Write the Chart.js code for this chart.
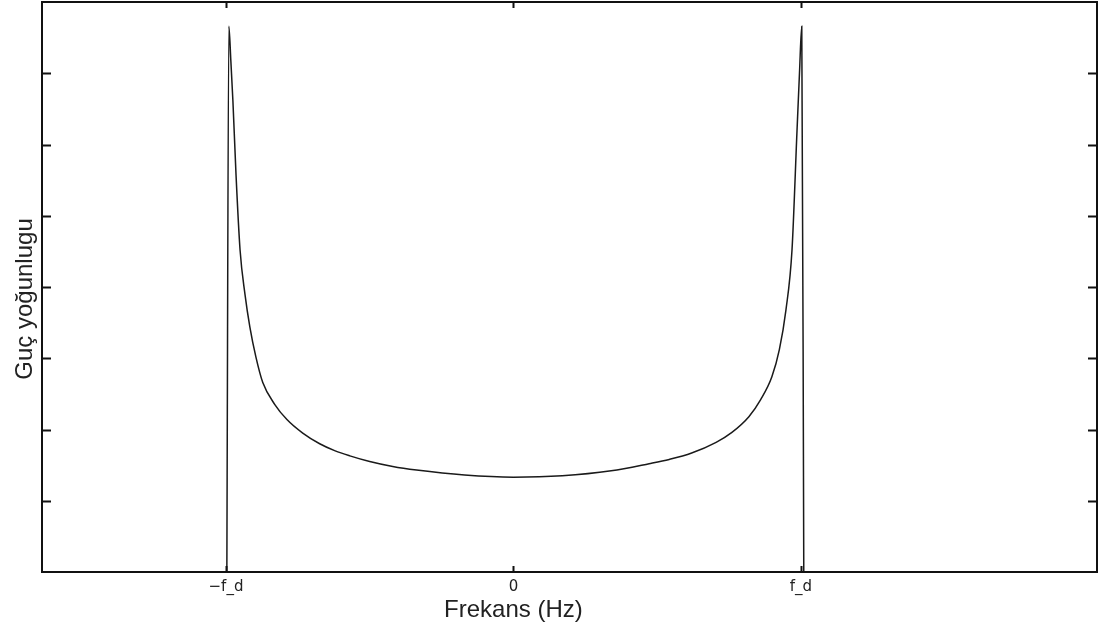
<!DOCTYPE html>
<html>
<head>
<meta charset="utf-8">
<title>Guç yoğunlugu</title>
<script src="https://cdn.jsdelivr.net/npm/chart.js@4.4.1/dist/chart.umd.min.js"></script>
<style>
    html, body { margin: 0; padding: 0; background: #fff; }
    #wrap { width: 1099px; height: 630px; position: relative; }
</style>
</head>
<body>
<div id="wrap"><canvas id="spectrumChart"></canvas></div>
<script>
// frequency (in units of f_d) and power density
const freq = [-0.997, -0.990, -0.983, -0.976, -0.965, -0.951, -0.934, -0.917, -0.896, -0.872,
    -0.830, -0.788, -0.733, -0.674, -0.620, -0.569, -0.500, -0.420, -0.337, -0.170, 0,
    0.170, 0.340, 0.472, 0.542, 0.620, 0.705, 0.760, 0.819, 0.860, 0.899,
    0.925, 0.948, 0.969, 0.986, 0.995, 1.003, 1.010];
const power = [0, 7.66, 7.17, 6.62, 5.57, 4.52, 3.90, 3.44, 3.02, 2.66,
    2.35, 2.14, 1.95, 1.80, 1.70, 1.63, 1.55, 1.48, 1.43, 1.36, 1.33,
    1.35, 1.42, 1.52, 1.58, 1.67, 1.82, 1.96, 2.18, 2.42, 2.74,
    3.12, 3.68, 4.52, 6.15, 7.00, 7.66, 0];

const xTickValues = [-1, 0, 1];
const xTickLabels = ['\u2212f_d', '0', 'f_d'];
const yTickValues = [1, 2, 3, 4, 5, 6, 7];
const xTitle = 'Frekans (Hz)';
const yTitle = 'Guç yoğunlugu';

const FONT = '"Liberation Sans", Arial, Helvetica, sans-serif';

// frame + inward tick marks on all four sides (MATLAB style box)
const boxPlugin = {
    id: 'box',
    afterDraw(chart) {
        const { ctx, chartArea: a, scales } = chart;
        ctx.save();
        ctx.strokeStyle = '#111';
        ctx.lineWidth = 2;
        ctx.strokeRect(a.left, a.top, a.right - a.left, a.bottom - a.top);
        yTickValues.forEach(v => {
            const y = Math.round(scales.y.getPixelForValue(v)) + 0.5;
            ctx.beginPath();
            ctx.moveTo(a.left, y); ctx.lineTo(a.left + 9, y);
            ctx.moveTo(a.right, y); ctx.lineTo(a.right - 9, y);
            ctx.stroke();
        });
        xTickValues.forEach(v => {
            const x = Math.round(scales.x.getPixelForValue(v)) + 0.5;
            ctx.beginPath();
            ctx.moveTo(x, a.bottom); ctx.lineTo(x, a.bottom - 6);
            ctx.moveTo(x, a.top); ctx.lineTo(x, a.top + 6);
            ctx.stroke();
        });
        ctx.restore();
    }
};

// axis titles: x title sits under the 0 tick, not the middle of the box
const titlePlugin = {
    id: 'axisTitles',
    afterDraw(chart) {
        const { ctx, scales } = chart;
        ctx.save();
        ctx.fillStyle = '#222';
        ctx.font = '24px ' + FONT;
        ctx.textAlign = 'center';
        ctx.textBaseline = 'alphabetic';
        ctx.fillText(xTitle, scales.x.getPixelForValue(0), 617);

        ctx.translate(32, 299);
        ctx.rotate(-Math.PI / 2);
        ctx.fillText(yTitle, 0, 0);
        ctx.restore();
    }
};

const ctx = document.getElementById('spectrumChart').getContext('2d');
new Chart(ctx, {
    type: 'line',
    data: {
        datasets: [{
            label: yTitle,
            data: freq.map((f, i) => ({ x: f, y: power[i] })),
            borderColor: '#1a1a1a',
            borderWidth: 1.5,
            pointRadius: 0,
            fill: false,
            cubicInterpolationMode: 'monotone'
        }]
    },
    options: {
        responsive: true,
        maintainAspectRatio: false,
        animation: false,
        layout: { padding: { top: 2, right: 2, left: 0, bottom: 0 } },
        plugins: {
            legend: { display: false },
            tooltip: { enabled: false }
        },
        scales: {
            x: {
                type: 'linear',
                min: -1.64,
                max: 2.03,
                grid: { display: false, drawTicks: false },
                border: { display: false },
                afterBuildTicks: (scale) => {
                    scale.ticks = xTickValues.map(v => ({ value: v }));
                },
                afterFit: (scale) => { scale.height = 58; },
                ticks: {
                    autoSkip: false,
                    maxRotation: 0,
                    padding: 6,
                    color: '#222',
                    font: { family: '"DejaVu Sans", ' + FONT, size: 15 },
                    callback: (value) => xTickLabels[xTickValues.indexOf(value)]
                }
            },
            y: {
                min: 0,
                max: 8,
                grid: { display: false, drawTicks: false },
                border: { display: false },
                ticks: { display: false, stepSize: 1 },
                afterFit: (scale) => { scale.width = 42; }
            }
        }
    },
    plugins: [boxPlugin, titlePlugin]
});
</script>
</body>
</html>
